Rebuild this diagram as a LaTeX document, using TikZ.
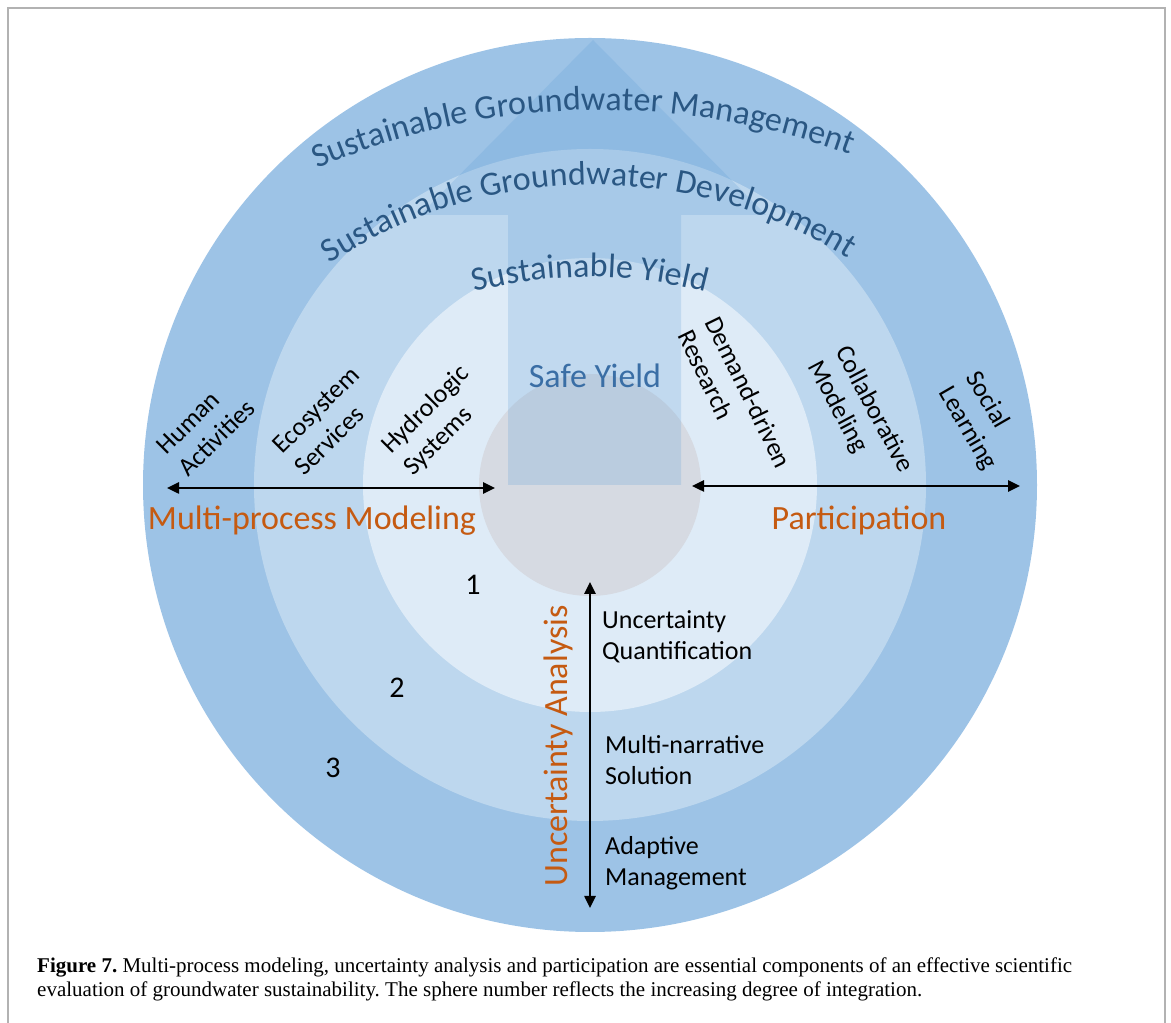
\documentclass[tikz,border=0pt]{standalone}
\usepackage{fontspec}
\setmainfont{Carlito}
\newfontfamily\capfont{Liberation Serif}
\usetikzlibrary{arrows.meta,decorations.text}
\frenchspacing

\definecolor{ringout}{HTML}{9DC3E6}
\definecolor{ringmid}{HTML}{BDD7EE}
\definecolor{ringin}{HTML}{DEEBF7}
\definecolor{core}{HTML}{D6DAE2}
\definecolor{arrowblue}{HTML}{5B9BD5}
\definecolor{textblue}{HTML}{2A5783}
\definecolor{safeblue}{HTML}{3A6EA5}
\definecolor{accent}{HTML}{C55A11}

\newcommand\arcfont{\fontsize{34}{40}\selectfont}

\tikzset{
  lbl/.style={text=black, font=\fontsize{26}{31}\selectfont, align=left, inner sep=0pt},
  head/.style={text=accent, font=\fontsize{34}{40}\selectfont, inner sep=0pt},
  num/.style={font=\fontsize{30}{36}\selectfont, inner sep=0pt},
  caption/.style={anchor=base west, inner sep=0pt, font=\capfont\fontsize{21}{24}\selectfont},
  biarrow/.style={arrows={Triangle[length=12pt, width=11pt]-Triangle[length=12pt, width=11pt]}, line width=2.5pt},
  arcname/.style={decorate, decoration={text along path, text align=center,
      text color=textblue, text={|\arcfont|#1}}}
}

\begin{document}
\begin{tikzpicture}[x=1pt, y=1pt]
    \useasboundingbox (0,0) rectangle (1171,1023);
    % frame
    \draw[gray!60, line width=1.5pt] (8,-4) -- (8,1015) -- (1165,1015) -- (1165,-4);

    % the spheres
    \fill[ringout] (590,538) circle (447);
    \fill[ringmid] (590,538) circle (336);
    \fill[ringin] (590,538) circle (227);
    \fill[core] (590,538) circle (111);

    % big arrow
    \fill[arrowblue, opacity=0.22] (508,538) -- (508,808) -- (420,808) -- (593,983)
        -- (766,808) -- (681,808) -- (681,538) -- cycle;

    % sphere names
    \path[arcname={Sustainable Groundwater Management}] (601,197) ++(121.5:716) arc[start angle=121.5, end angle=61.5, radius=716];
    \path[arcname={Sustainable Groundwater Development}] (593,358) ++(130.6:480) arc[start angle=130.6, end angle=50.6, radius=480];
    \path[arcname={Sustainable Yield}] (590,296) ++(110:450) arc[start angle=110, end angle=70, radius=450];
    \node[font=\fontsize{34}{40}\selectfont, text=safeblue, anchor=base, inner sep=0pt] (safe) at (595,635) {Safe Yield};

    % components
    \node[head, anchor=base] (mpm) at (312,493) {Multi-process Modeling};
    \node[head, anchor=base] (part) at (859,493) {Participation};
    \node[head, anchor=base, rotate=90] (ua) at (567,277) {Uncertainty Analysis};

    \node[lbl, rotate=45] (human) at (206,596) {Human\\Activities};
    \node[lbl, rotate=45] (eco) at (327,602) {Ecosystem\\Services};
    \node[lbl, rotate=45] (hydro) at (437,602) {Hydrologic\\Systems};
    \node[lbl, rotate=-64] (demand) at (735,624) {Demand-driven\\Research};
    \node[lbl, rotate=-62] (collab) at (860,606) {Collaborative\\Modeling};
    \node[lbl, rotate=-60] (social) at (981,602) {Social\\Learning};

    \node[lbl, anchor=west] (uq) at (602,386) {Uncertainty\\Quantification};
    \node[lbl, anchor=west] (mns) at (605,263) {Multi-narrative\\Solution};
    \node[lbl, anchor=west] (am) at (605,160) {Adaptive\\Management};

    \node[num] (n1) at (473,438) {1};
    \node[num] (n2) at (397,335) {2};
    \node[num] (n3) at (333,255) {3};

    % axes
    \coordinate (mpL) at (167,535);
    \coordinate (mpR) at (495,535);
    \coordinate (paL) at (692,537);
    \coordinate (paR) at (1020,537);
    \coordinate (uaT) at (590,441);
    \coordinate (uaB) at (590,115);
    \draw[biarrow] (mpL) -- (mpR);
    \draw[biarrow] (paL) -- (paR);
    \draw[biarrow] (uaT) -- (uaB);

    % caption
    \node[caption] (cap1) at (37,50)
        {\textbf{Figure 7.} Multi-process modeling, uncertainty analysis and participation are essential components of an effective scientific};
    \node[caption] (cap2) at (37,26)
        {evaluation of groundwater sustainability. The sphere number reflects the increasing degree of integration.};
\end{tikzpicture}
\end{document}
